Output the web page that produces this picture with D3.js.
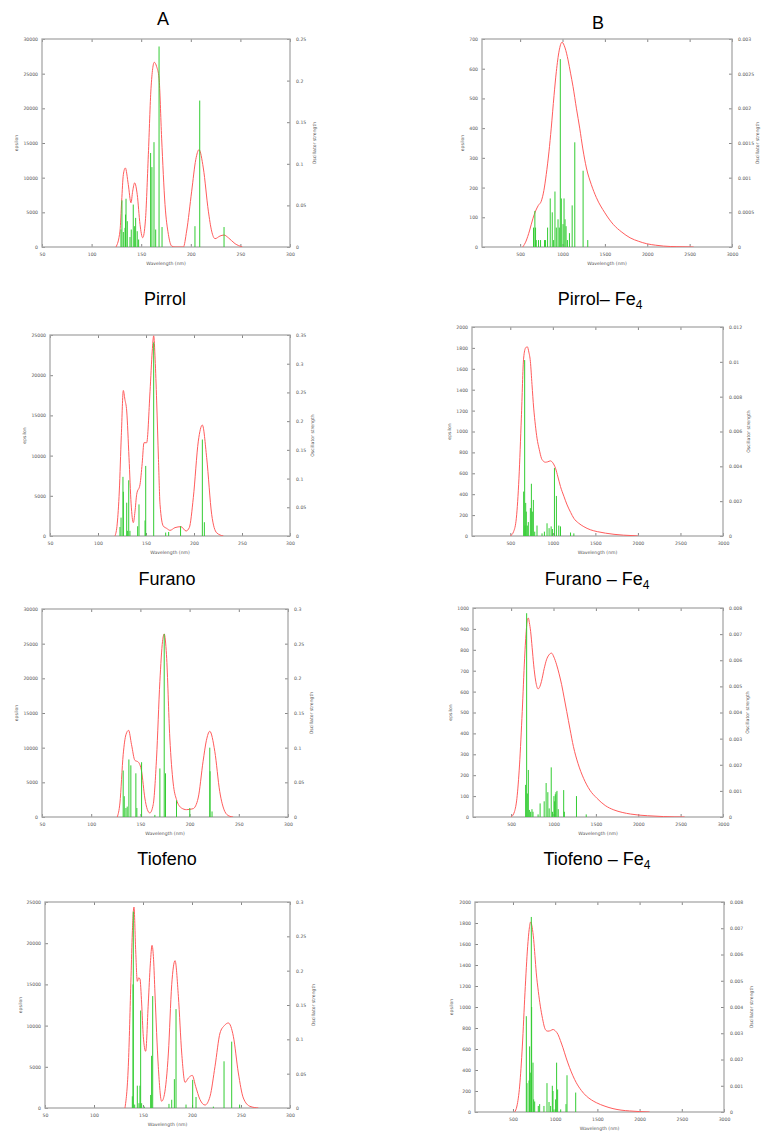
<!DOCTYPE html>
<html>
<head>
<meta charset="utf-8">
<script src="https://cdn.jsdelivr.net/npm/d3@7"></script>
<style>
  body { margin: 0; background: #fff; }
  .title { font-family: "Liberation Sans", Arial, sans-serif; font-size: 18px; fill: #000; }
  .small { font-family: "DejaVu Sans", sans-serif; font-size: 4.6px; fill: #555; }
</style>
</head>
<body>
<svg id="chart" width="763" height="1131"></svg>
<script>
// x ticks
const wavelengthTicksA = [50, 100, 150, 200, 250, 300];
const wavelengthTicksB = [500, 1000, 1500, 2000, 2500, 3000];

// left (epsilon) ticks
const epsTicks30k = [0, 5000, 10000, 15000, 20000, 25000, 30000];
const epsTicks25k = [0, 5000, 10000, 15000, 20000, 25000];
const epsTicks700 = [0, 100, 200, 300, 400, 500, 600, 700];
const epsTicks1000 = [0, 100, 200, 300, 400, 500, 600, 700, 800, 900, 1000];
const epsTicks2000 = [0, 200, 400, 600, 800, 1000, 1200, 1400, 1600, 1800, 2000];

// right (oscillator strength) ticks
const oscTicksPirrol = [0, 0.05, 0.1, 0.15, 0.2, 0.25];
const oscTicksFurano = [0, 0.05, 0.1, 0.15, 0.2, 0.25, 0.3, 0.35];
const oscTicksTiofeno = [0, 0.05, 0.1, 0.15, 0.2, 0.25, 0.3];
const oscTicksPirrolFe = [0, 0.0005, 0.001, 0.0015, 0.002, 0.0025, 0.003];
const oscTicksFuranoFe = [0, 0.002, 0.004, 0.006, 0.008, 0.01, 0.012];
const oscTicksFe8 = [0, 0.001, 0.002, 0.003, 0.004, 0.005, 0.006, 0.007, 0.008];

// spectra: [wavelength nm, epsilon]   sticks: [wavelength nm, oscillator strength]
const pirrolCurve = [[124.6,0],[128.6,2300],[130.3,6600],[132,10440],[134,11400],[137,9000],[139.7,6370],[141.4,8050],[143.4,9250],[146,7570],[148.8,3260],[151.5,1340],[154.2,3740],[157.2,13300],[159.9,22900],[163.2,26640],[165.6,26000],[168,24340],[170.6,15700],[174,6130],[177.4,1820],[180.7,140],[184,0],[192.5,0],[195.8,2300],[200.9,8050],[205,12600],[208.3,14040],[212.6,11400],[217.7,5170],[221,2300],[224.4,1200],[229.4,1580],[233.5,1725],[237.8,1340],[244.6,480],[252,0]];
const pirrolSticks = [[129.6,0.021],[130.6,0.056],[132,0.018],[133.7,0.023],[134.2,0.039],[134.7,0.058],[136,0.031],[138.7,0.012],[140,0.021],[142,0.051],[143.4,0.025],[144.4,0.035],[146,0.019],[147.4,0.009],[159.5,0.113],[160.8,0.096],[162.9,0.126],[164.6,0.021],[168,0.241],[171,0.024],[204.2,0.025],[209,0.176],[233.5,0.024]];

const pirrolFeCurve = [[531,0],[570,20],[610,54],[650,95],[682,121],[715,140],[749,154],[780,190],[808,244],[840,320],[867,400],[900,510],[927,590],[960,660],[994,689],[1030,670],[1065,630],[1095,585],[1124,540],[1165,465],[1203,400],[1240,330],[1282,266],[1340,210],[1400,166],[1500,115],[1599,76],[1700,50],[1797,31],[1900,19],[1994,11],[2100,6],[2192,3],[2350,1],[2547,0]];
const pirrolFeSticks = [[658,0.00028],[674,0.00052],[682,0.00028],[690,0.0001],[717,0.0001],[741,0.0001],[788,0.0001],[800,0.0001],[824,0.00028],[855,0.0007],[879,0.0005],[895,0.0001],[911,0.0008],[927,0.00028],[947,0.0004],[962,0.00028],[974,0.00271],[986,0.0007],[1006,0.00033],[1018,0.0007],[1030,0.0004],[1042,0.0003],[1058,0.0001],[1082,0.0002],[1114,0.0006],[1145,0.00151],[1243,0.0011],[1298,0.0001]];

const furanoCurve = [[117.7,0],[120,1500],[122.2,5600],[124.3,12500],[126.4,18100],[128,17000],[129.9,15550],[132.3,9740],[134.5,4000],[136.8,1660],[138.5,3000],[140.3,5180],[143.8,6430],[146,9000],[147.9,11600],[150.7,11600],[154.2,18000],[156.5,23000],[158,24900],[159.5,22000],[161.1,16800],[163,9500],[164.6,3940],[168,1240],[171.5,950],[175,700],[180.2,1040],[186.5,1160],[191.7,620],[195.1,1040],[199.3,4770],[204.5,11800],[208.7,13800],[213.2,9740],[218.4,2700],[223.6,400],[230.6,0]];
const furanoSticks = [[122.9,0.0157],[124,0.032],[126,0.103],[126.4,0.077],[129.9,0.058],[130.6,0.009],[132,0.097],[133.3,0.009],[141.3,0.017],[142.7,0.055],[149,0.027],[149.7,0.122],[158,0.337],[170.5,0.006],[173.6,0.007],[186,0.017],[208.7,0.168],[210.8,0.024]];

const furanoFeCurve = [[500,0],[539,42],[571,170],[602,553],[630,1128],[657,1703],[680,1800],[700,1811],[718,1760],[736,1671],[755,1450],[775,1224],[795,1060],[814,936],[840,830],[866,744],[890,715],[913,706],[940,710],[972,719],[1000,700],[1031,649],[1060,565],[1090,473],[1130,380],[1168,297],[1210,225],[1247,169],[1300,125],[1365,89],[1440,60],[1522,42],[1620,27],[1719,16],[1830,8],[1954,3],[2000,0]];
const furanoFeSticks = [[657,0.00255],[669,0.0101],[673,0.0006],[681,0.0019],[688,0.0014],[700,0.0006],[712,0.0008],[736,0.0016],[748,0.003],[759,0.0014],[771,0.00207],[787,0.00025],[814,0.0006],[873,0.00015],[901,0.00025],[932,0.00073],[956,0.00045],[980,0.00055],[995,0.0004],[1019,0.0039],[1042,0.0023],[1070,0.0006],[1090,0.00055],[1208,0.0002],[1247,0.00015]];

const tiofenoCurve = [[126.5,0],[129.2,2020],[132.5,8990],[135.3,11870],[138,12500],[141,10430],[144.4,8170],[147.8,7930],[151.2,6590],[154.5,2740],[157,1100],[159.6,580],[163,1780],[166.4,8500],[169.8,19570],[172.5,25340],[174.2,26400],[176.5,23400],[179.9,11400],[183.3,4900],[186.7,2500],[191.7,1300],[196.8,1060],[203.6,1200],[208.7,2740],[213.7,8030],[217,11000],[220.5,12360],[225.6,9470],[230.6,3700],[235.7,820],[240,150],[244.2,0]];
const tiofenoSticks = [[132.5,0.067],[133.6,0.030],[135.3,0.013],[136.6,0.015],[138.3,0.083],[140.3,0.0745],[145.4,0.063],[146.4,0.013],[151.2,0.079],[164.7,0.003],[169.8,0.07],[174.2,0.264],[175.5,0.063],[186.7,0.024],[200.2,0.013],[220.5,0.1],[220.8,0.066],[222.8,0.008]];

const tiofenoFeCurve = [[500,0],[540,26],[568,89],[599,249],[631,505],[659,760],[680,900],[691,944],[703,952],[715,930],[730,888],[748,810],[766,728],[790,650],[818,613],[840,625],[858,649],[890,710],[917,752],[945,775],[977,784],[1005,765],[1037,728],[1066,685],[1096,633],[1126,570],[1156,505],[1195,420],[1235,337],[1290,255],[1355,185],[1430,128],[1514,89],[1610,55],[1712,34],[1810,22],[1911,14],[2010,9],[2110,6],[2300,2],[2547,0]];
const tiofenoFeSticks = [[671,0.00123],[683,0.0078],[691,0.0009],[703,0.0018],[715,0.00027],[730,0.0002],[746,0.0003],[758,0.0002],[818,0.0001],[842,0.00052],[890,0.0006],[913,0.0013],[933,0.00095],[949,0.00033],[973,0.0019],[989,0.0002],[1005,0.0008],[1013,0.0006],[1021,0.00087],[1029,0.00095],[1041,0.001],[1056,0.0003],[1120,0.00103],[1128,0.0002],[1271,0.0008],[1386,0.0001]];

const row4Curve = [[131.6,0],[135,5060],[137.8,15980],[139.1,21240],[140.8,24390],[142.5,19220],[144.2,15370],[145.6,15800],[146.9,15660],[148.6,12740],[150.3,8700],[152.7,6880],[155.4,12740],[157.5,17500],[159.2,19740],[160.8,18000],[162.2,13960],[165.6,5060],[169,810],[171.8,1620],[175.9,6670],[179.3,14970],[182.7,17880],[186.1,13550],[189.5,6670],[192.9,3110],[196.3,3640],[200.3,3960],[203.7,2630],[208.2,1010],[213.3,360],[218.4,1420],[223.5,5060],[228.6,9100],[233,10000],[237.1,10320],[242.2,8700],[247.3,4250],[252.4,1210],[259.2,200],[267.7,0]];
const row4Sticks = [[139.1,0.017],[139.8,0.18],[140.1,0.286],[141.5,0.005],[144.2,0.0325],[145.9,0.007],[146.9,0.0325],[147.6,0.142],[148.6,0.007],[151.4,0.002],[157.8,0.019],[158.8,0.076],[159.9,0.163],[176.5,0.006],[179.3,0.012],[182,0.042],[183.7,0.144],[193.9,0.005],[200.7,0.041],[204.1,0.016],[221.8,0.002],[232.7,0.068],[240.5,0.0966],[248.6,0.005]];

const row4FeCurve = [[520,0],[547,57],[579,247],[611,628],[642,1135],[674,1578],[692,1740],[709,1810],[727,1760],[745,1642],[760,1490],[776,1325],[800,1150],[824,1008],[850,890],[875,802],[895,775],[915,770],[945,775],[974,786],[1005,770],[1033,739],[1062,680],[1092,612],[1130,515],[1171,422],[1210,345],[1250,279],[1310,205],[1369,152],[1430,115],[1487,89],[1590,55],[1685,32],[1780,18],[1882,10],[2000,4],[2119,0]];
const row4FeSticks = [[658,0.00365],[666,0.0011],[690,0.0012],[697,0.0025],[705,0.0015],[717,0.00743],[721,0.004],[737,0.00188],[745,0.00048],[757,0.0004],[800,0.00023],[816,0.0003],[867,0.00023],[903,0.0011],[927,0.00038],[946,0.00023],[966,0.001],[974,0.0008],[986,0.0001],[1005,0.00048],[1017,0.00188],[1029,0.00086],[1065,0.0001],[1128,0.0003],[1140,0.0014],[1243,0.00074]];

const svg = d3.select('#chart');

const panels = [
  {id: 'a1', left: 42, right: 290, top: 39, bottom: 247, xDomain: [50, 300], xTicks: wavelengthTicksA, yTicks: epsTicks30k, y2Ticks: oscTicksPirrol, curve: pirrolCurve, sticks: pirrolSticks, epsX: 16, oscX: 314},
  {id: 'b1', left: 482, right: 732, top: 39, bottom: 247, xDomain: [50, 3000], xTicks: wavelengthTicksB, yTicks: epsTicks700, y2Ticks: oscTicksPirrolFe, curve: pirrolFeCurve, sticks: pirrolFeSticks, epsX: 462, oscX: 757},
  {id: 'a2', left: 50, right: 290, top: 335, bottom: 536, xDomain: [50, 300], xTicks: wavelengthTicksA, yTicks: epsTicks25k, y2Ticks: oscTicksFurano, curve: furanoCurve, sticks: furanoSticks, epsX: 24, oscX: 312},
  {id: 'b2', left: 472, right: 723, top: 327, bottom: 536, xDomain: [50, 3000], xTicks: wavelengthTicksB, yTicks: epsTicks2000, y2Ticks: oscTicksFuranoFe, curve: furanoFeCurve, sticks: furanoFeSticks, epsX: 449, oscX: 748},
  {id: 'a3', left: 42, right: 288, top: 609, bottom: 817, xDomain: [50, 300], xTicks: wavelengthTicksA, yTicks: epsTicks30k, y2Ticks: oscTicksTiofeno, curve: tiofenoCurve, sticks: tiofenoSticks, epsX: 16, oscX: 311},
  {id: 'b3', left: 473, right: 723, top: 608, bottom: 817, xDomain: [50, 3000], xTicks: wavelengthTicksB, yTicks: epsTicks1000, y2Ticks: oscTicksFe8, curve: tiofenoFeCurve, sticks: tiofenoFeSticks, epsX: 450, oscX: 747},
  {id: 'a4', left: 45, right: 290, top: 902, bottom: 1108, xDomain: [50, 300], xTicks: wavelengthTicksA, yTicks: epsTicks25k, y2Ticks: oscTicksTiofeno, curve: row4Curve, sticks: row4Sticks, epsX: 20, oscX: 313},
  {id: 'b4', left: 475, right: 724, top: 902, bottom: 1112, xDomain: [50, 3000], xTicks: wavelengthTicksB, yTicks: epsTicks2000, y2Ticks: oscTicksFe8, curve: row4FeCurve, sticks: row4FeSticks, epsX: 451, oscX: 751}
];

function drawPanel(p) {
  const x = d3.scaleLinear().domain(p.xDomain).range([p.left, p.right]);
  const y = d3.scaleLinear().domain([0, d3.max(p.yTicks)]).range([p.bottom, p.top]);
  const y2 = d3.scaleLinear().domain([0, d3.max(p.y2Ticks)]).range([p.bottom, p.top]);
  const g = svg.append('g');

  g.append('clipPath').attr('id', 'clip-' + p.id)
    .append('rect')
      .attr('x', p.left).attr('y', p.top)
      .attr('width', p.right - p.left).attr('height', p.bottom - p.top);

  const axisStyle = sel => {
    sel.select('.domain').remove();
    sel.selectAll('line').attr('stroke', '#888');
    sel.selectAll('text').attr('class', 'small').attr('font-size', null).attr('font-family', null).attr('fill', null);
  };

  g.append('g').attr('transform', `translate(0,${p.bottom})`)
    .call(d3.axisBottom(x).tickValues(p.xTicks).tickSizeInner(-3).tickSizeOuter(0).tickPadding(6).tickFormat(d => String(d)))
    .call(axisStyle);
  g.append('g').attr('transform', `translate(0,${p.top})`)
    .call(d3.axisTop(x).tickValues(p.xTicks).tickSizeInner(-3).tickSizeOuter(0).tickFormat(''))
    .call(axisStyle);
  g.append('g').attr('transform', `translate(${p.left},0)`)
    .call(d3.axisLeft(y).tickValues(p.yTicks).tickSizeInner(-3).tickSizeOuter(0).tickPadding(4).tickFormat(d => String(d)))
    .call(axisStyle);
  g.append('g').attr('transform', `translate(${p.right},0)`)
    .call(d3.axisRight(y2).tickValues(p.y2Ticks).tickSizeInner(-3).tickSizeOuter(0).tickPadding(6).tickFormat(d => String(d)))
    .call(axisStyle);

  g.append('rect')
    .attr('x', p.left).attr('y', p.top)
    .attr('width', p.right - p.left).attr('height', p.bottom - p.top)
    .attr('fill', 'none').attr('stroke', '#a8a8a8').attr('stroke-width', 1.3);

  const plot = g.append('g').attr('clip-path', `url(#clip-${p.id})`);

  const line = d3.line()
    .x(d => x(d[0]))
    .y(d => y(d[1]))
    .curve(d3.curveMonotoneX);

  plot.append('path')
    .datum(p.curve)
    .attr('d', line)
    .attr('fill', 'none')
    .attr('stroke', '#ff5c5c')
    .attr('stroke-width', 1);

  plot.selectAll('line.stick')
    .data(p.sticks)
    .join('line')
      .attr('class', 'stick')
      .attr('x1', d => x(d[0]))
      .attr('x2', d => x(d[0]))
      .attr('y1', y2(0))
      .attr('y2', d => y2(d[1]))
      .attr('stroke', '#33cc33')
      .attr('stroke-width', 1);

  g.append('text')
    .attr('class', 'small')
    .attr('text-anchor', 'middle')
    .attr('x', (p.left + p.right) / 2)
    .attr('y', p.bottom + 18)
    .text('Wavelength (nm)');

  g.append('text')
    .attr('class', 'small')
    .attr('text-anchor', 'middle')
    .attr('transform', `translate(${p.epsX},${(p.top + p.bottom) / 2}) rotate(-90)`)
    .attr('dy', '0.35em')
    .text('epsilon');

  g.append('text')
    .attr('class', 'small')
    .attr('text-anchor', 'middle')
    .attr('transform', `translate(${p.oscX},${(p.top + p.bottom) / 2}) rotate(-90)`)
    .attr('dy', '0.35em')
    .text('Oscillator strength');
}

panels.forEach(drawPanel);

// titles
const titles = [
  {text: 'A', x: 163, y: 25},
  {text: 'B', x: 598, y: 29},
  {text: 'Pirrol', x: 165, y: 305},
  {text: 'Pirrol– Fe', sub: '4', x: 600, y: 305},
  {text: 'Furano', x: 167, y: 585},
  {text: 'Furano – Fe', sub: '4', x: 597, y: 585},
  {text: 'Tiofeno', x: 167, y: 865},
  {text: 'Tiofeno – Fe', sub: '4', x: 597, y: 865}
];

titles.forEach(t => {
  const txt = svg.append('text')
    .attr('class', 'title')
    .attr('text-anchor', 'middle')
    .attr('x', t.x)
    .attr('y', t.y);
  txt.append('tspan').text(t.text);
  if (t.sub) {
    txt.append('tspan').attr('dy', 4).attr('font-size', 12).text(t.sub);
  }
});
</script>
</body>
</html>
